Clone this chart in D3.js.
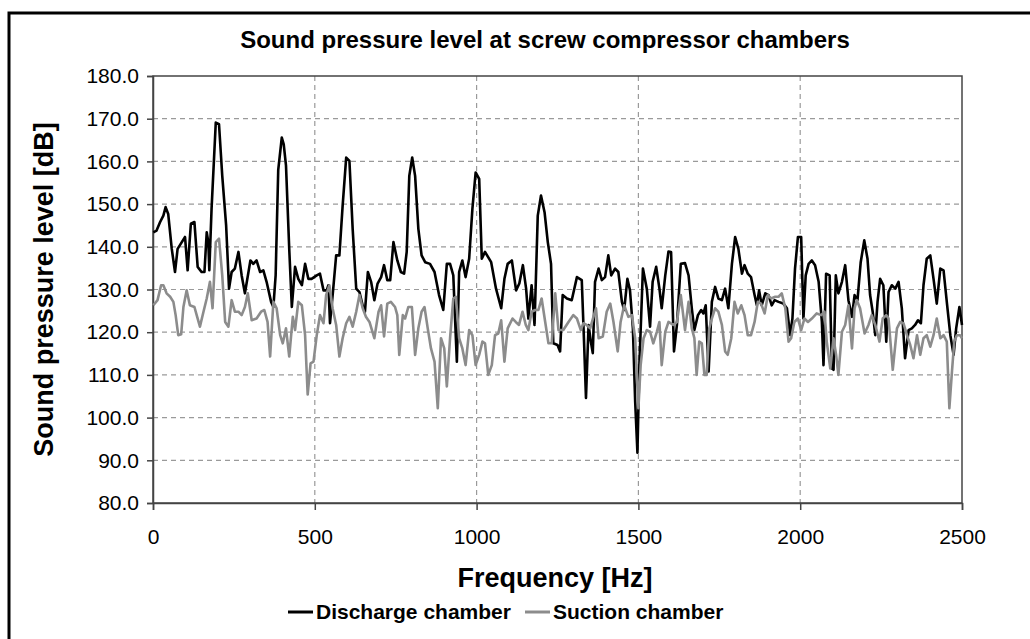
<!DOCTYPE html>
<html>
<head>
<meta charset="utf-8">
<script src="https://cdn.jsdelivr.net/npm/d3@7"></script>
<style>
  html, body { margin: 0; padding: 0; background: #fff; }
  svg { display: block; font-family: "Liberation Sans", Arial, sans-serif; }
</style>
</head>
<body>
<svg id="chart"></svg>
<script>
// [frequency Hz, dB]
const discharge = [[1,143.4],[11,143.8],[22,145.8],[32,147.3],[39,149.3],[47,147.7],[58,139.5],[68,134.1],[76,139.5],[89,141.1],[99,142.3],[107,134.5],[117,145.4],[128,145.8],[138,135.3],[150,134.1],[159,134.1],[166,143.4],[171,141.1],[174,134.5],[181,148.9],[194,169.1],[204,168.7],[214,156.6],[226,145.0],[235,130.2],[243,134.1],[253,134.9],[264,138.8],[274,133.3],[284,129.1],[301,136.8],[310,136.0],[320,136.8],[331,134.1],[341,134.5],[351,131.8],[365,127.1],[372,125.9],[379,133.3],[387,158.0],[398,165.6],[404,164.0],[411,159.0],[421,139.5],[429,125.9],[439,135.3],[449,132.5],[460,131.0],[470,136.0],[480,132.5],[490,132.5],[506,133.3],[516,133.7],[527,129.8],[537,129.8],[542,131.0],[547,122.1],[557,130.2],[566,138.0],[576,138.0],[586,149.6],[597,160.9],[607,160.1],[617,144.2],[628,130.2],[638,129.4],[650,125.6],[655,124.8],[664,134.1],[674,131.8],[684,127.5],[694,131.4],[705,132.9],[714,135.7],[724,132.2],[733,132.2],[743,141.1],[755,136.8],[766,134.1],[776,133.7],[784,138.8],[792,156.6],[801,160.9],[810,156.6],[820,144.2],[830,138.0],[841,136.4],[856,136.0],[870,134.1],[884,128.7],[897,125.2],[908,136.0],[918,136.0],[928,133.3],[933,124.0],[939,113.1],[946,134.1],[956,136.8],[966,132.9],[977,137.2],[987,148.9],[997,157.4],[1008,155.9],[1016,137.2],[1026,138.8],[1045,136.4],[1060,130.2],[1076,125.6],[1086,132.5],[1096,136.0],[1109,136.8],[1122,129.8],[1132,131.4],[1143,135.7],[1153,130.2],[1160,123.2],[1170,131.0],[1179,121.7],[1189,147.3],[1199,152.0],[1210,148.1],[1220,141.1],[1230,136.0],[1237,117.4],[1250,117.0],[1258,115.5],[1266,128.7],[1279,127.9],[1294,127.5],[1310,132.9],[1325,132.2],[1332,117.8],[1338,104.6],[1346,121.7],[1353,117.8],[1359,115.1],[1366,131.8],[1377,134.9],[1387,132.2],[1397,132.9],[1407,138.0],[1416,133.3],[1428,134.9],[1438,134.1],[1449,127.1],[1456,125.2],[1466,132.5],[1474,129.8],[1483,120.9],[1490,103.8],[1497,91.8],[1503,112.3],[1514,134.9],[1526,130.2],[1536,121.3],[1544,131.8],[1555,135.3],[1565,130.2],[1572,125.6],[1583,133.3],[1593,138.9],[1601,138.8],[1610,115.5],[1619,121.7],[1631,136.0],[1644,136.2],[1655,133.3],[1665,125.6],[1673,120.5],[1684,124.0],[1694,125.2],[1701,124.4],[1708,126.3],[1717,110.8],[1727,127.1],[1737,130.6],[1747,127.9],[1758,127.5],[1768,130.2],[1778,125.6],[1789,136.0],[1799,142.3],[1809,139.5],[1820,133.7],[1828,135.7],[1838,133.7],[1848,132.9],[1859,128.7],[1866,126.3],[1873,129.8],[1881,126.3],[1892,129.1],[1902,128.7],[1912,126.3],[1921,127.5],[1933,127.1],[1948,126.7],[1959,125.6],[1969,119.3],[1976,123.2],[1984,134.9],[1993,142.3],[2003,142.3],[2010,123.2],[2017,133.3],[2026,136.0],[2036,136.8],[2046,135.7],[2057,131.8],[2067,122.4],[2072,112.3],[2080,133.7],[2091,133.3],[2098,111.5],[2103,111.2],[2110,133.3],[2118,129.1],[2129,131.8],[2139,135.7],[2149,127.5],[2160,123.6],[2168,128.7],[2177,127.5],[2187,136.4],[2198,141.5],[2208,137.2],[2216,128.7],[2224,124.8],[2232,119.3],[2239,127.1],[2247,132.5],[2257,131.0],[2266,117.8],[2273,129.4],[2283,131.0],[2294,130.2],[2304,131.8],[2314,125.6],[2324,113.9],[2335,120.5],[2345,120.9],[2355,121.7],[2364,122.8],[2373,122.1],[2381,131.0],[2391,137.2],[2402,138.0],[2412,132.5],[2422,126.7],[2433,134.9],[2443,134.5],[2453,127.1],[2464,119.3],[2474,114.7],[2482,120.9],[2492,125.9],[2500,121.7]];

const suction = [[1,126.3],[14,127.5],[25,131.0],[32,131.0],[42,129.1],[53,128.3],[63,127.1],[70,124.0],[78,119.3],[87,119.5],[94,125.9],[104,129.8],[114,126.3],[128,125.9],[135,124.0],[145,121.3],[156,124.8],[166,127.9],[176,131.8],[184,125.6],[194,141.1],[204,141.9],[214,133.3],[223,122.4],[233,121.3],[243,127.5],[253,124.8],[264,124.8],[274,124.0],[284,125.9],[293,129.1],[305,122.8],[320,123.2],[334,124.8],[344,125.2],[354,122.4],[362,114.3],[372,127.1],[382,125.6],[393,119.3],[401,117.4],[411,120.9],[421,114.3],[432,123.6],[439,120.5],[449,127.1],[460,126.3],[470,119.3],[478,105.4],[487,112.7],[496,113.1],[506,119.3],[516,124.0],[527,122.1],[535,128.7],[545,131.0],[555,125.6],[566,121.7],[576,114.3],[586,118.6],[597,122.1],[607,123.6],[617,121.3],[628,124.8],[638,128.7],[648,125.6],[658,123.6],[669,122.4],[684,118.6],[697,124.8],[705,126.3],[714,119.0],[724,126.7],[735,127.1],[748,125.9],[755,124.0],[761,114.7],[772,124.0],[779,123.2],[789,125.9],[800,125.9],[810,114.7],[820,120.9],[830,124.8],[839,125.9],[849,120.9],[859,116.2],[870,113.1],[880,102.2],[890,118.6],[900,116.2],[908,107.3],[918,118.6],[928,127.9],[936,128.3],[946,118.6],[956,116.2],[966,112.3],[977,120.5],[987,119.3],[997,112.3],[1008,114.7],[1018,117.8],[1026,117.4],[1036,110.0],[1047,112.3],[1057,119.3],[1067,119.7],[1076,122.8],[1086,113.1],[1096,120.9],[1111,123.2],[1121,122.4],[1131,121.7],[1142,124.8],[1152,121.7],[1160,120.5],[1170,124.8],[1181,125.2],[1191,125.2],[1201,127.9],[1212,122.4],[1222,117.4],[1232,117.4],[1243,129.1],[1253,120.5],[1268,120.5],[1284,122.4],[1299,124.0],[1310,123.2],[1322,120.5],[1330,122.1],[1340,121.7],[1351,120.9],[1361,123.6],[1369,125.6],[1377,118.6],[1390,119.0],[1402,124.8],[1413,126.7],[1423,122.4],[1436,115.5],[1445,122.4],[1456,126.3],[1469,123.6],[1480,124.0],[1490,118.6],[1500,102.2],[1507,112.3],[1516,118.6],[1526,120.5],[1536,120.1],[1546,117.4],[1557,120.1],[1565,122.4],[1572,112.3],[1583,120.1],[1593,122.4],[1608,121.7],[1619,122.4],[1631,128.7],[1644,120.5],[1655,127.1],[1665,120.9],[1673,118.6],[1680,110.0],[1688,117.8],[1696,117.4],[1704,110.0],[1711,110.0],[1719,120.9],[1727,123.2],[1737,125.6],[1747,124.8],[1758,121.7],[1768,115.5],[1776,114.7],[1787,118.6],[1797,127.1],[1807,124.4],[1818,126.3],[1828,124.0],[1838,119.3],[1848,119.3],[1859,122.4],[1869,127.1],[1879,126.7],[1890,124.4],[1900,128.7],[1910,127.9],[1923,128.3],[1933,128.3],[1943,129.1],[1954,125.6],[1964,117.8],[1972,118.6],[1982,122.4],[1993,123.2],[2003,120.5],[2013,123.2],[2024,122.4],[2036,123.2],[2051,124.4],[2065,124.0],[2075,124.8],[2082,117.8],[2093,111.5],[2103,118.6],[2111,114.7],[2118,110.0],[2129,120.1],[2139,121.7],[2149,126.3],[2160,116.2],[2168,125.6],[2175,127.5],[2185,125.6],[2199,119.7],[2211,121.7],[2221,124.0],[2232,121.7],[2245,117.8],[2255,123.2],[2266,124.0],[2273,123.2],[2286,111.2],[2299,120.9],[2309,122.4],[2319,122.1],[2330,119.3],[2340,117.0],[2350,113.9],[2361,119.3],[2371,114.7],[2381,118.6],[2391,119.3],[2402,116.6],[2412,119.3],[2422,123.2],[2433,118.6],[2443,119.3],[2453,117.8],[2461,102.2],[2469,110.8],[2476,117.8],[2484,119.3],[2494,119.3],[2500,118.6]];

const xTicks = [0, 500, 1000, 1500, 2000, 2500];
const yTicks = [80, 90, 100, 110, 120, 130, 140, 150, 160, 170, 180];
const seriesNames = ['Discharge chamber', 'Suction chamber'];
const seriesColors = ['#000000', '#8c8c8c'];

const W = 1030, H = 639;
const m = { top: 76, right: 68, bottom: 136, left: 153 };
const cW = W - m.left - m.right;
const cH = H - m.top - m.bottom;
const FONT = '"Liberation Sans", Arial, sans-serif';

const svg = d3.select('#chart').attr('width', W).attr('height', H);
svg.append('rect').attr('width', W).attr('height', H).attr('fill', '#fff');

// outer frame (top and left edges visible)
svg.append('path').attr('d', `M9,${H} L9,13 L${W},13`)
  .attr('fill', 'none').attr('stroke', '#000').attr('stroke-width', 3);

svg.append('text').attr('x', 545).attr('y', 48).attr('text-anchor', 'middle')
  .style('font-size', '24px').style('font-weight', 'bold')
  .text('Sound pressure level at screw compressor chambers');

const g = svg.append('g').attr('transform', `translate(${m.left},${m.top})`);
const x = d3.scaleLinear().domain([0, 2500]).range([0, cW]);
const y = d3.scaleLinear().domain([80, 180]).range([cH, 0]);

// grid
const grid = g.append('g').attr('stroke', '#9a9a9a').attr('stroke-width', 1.2)
  .attr('stroke-dasharray', '5,4');
yTicks.slice(1, -1).forEach(t => {
  grid.append('line').attr('x1', 0).attr('x2', cW).attr('y1', y(t)).attr('y2', y(t));
});
xTicks.slice(1, -1).forEach(t => {
  grid.append('line').attr('x1', x(t)).attr('x2', x(t)).attr('y1', 0).attr('y2', cH);
});

// plot box
g.append('rect').attr('width', cW).attr('height', cH)
  .attr('fill', 'none').attr('stroke', '#444').attr('stroke-width', 1.5);

// axes
const yAxis = g.append('g')
  .call(d3.axisLeft(y).tickValues(yTicks).tickFormat(d3.format('.1f')).tickSize(6).tickPadding(8));
const xAxis = g.append('g').attr('transform', `translate(0,${cH})`)
  .call(d3.axisBottom(x).tickValues(xTicks).tickFormat(d3.format('d')).tickSize(7).tickPadding(19));
[yAxis, xAxis].forEach(a => {
  a.selectAll('.domain').attr('stroke', '#444').attr('stroke-width', 1.5);
  a.selectAll('.tick line').attr('stroke', '#444').attr('stroke-width', 1.5);
  a.selectAll('text').style('font-size', '21px').style('font-family', FONT).attr('fill', '#000');
});

// series
const line = d3.line().x(d => x(d[0])).y(d => y(d[1]));
[discharge, suction].forEach((s, i) => {
  g.append('path').datum(s)
    .attr('fill', 'none').attr('stroke', seriesColors[i]).attr('stroke-width', 2.6)
    .attr('stroke-linejoin', 'round').attr('d', line);
});

// axis titles
svg.append('text').attr('transform', `translate(53,${m.top + cH / 2}) rotate(-90)`)
  .attr('text-anchor', 'middle')
  .style('font-size', '27px').style('font-weight', 'bold')
  .text('Sound pressure level [dB]');
svg.append('text').attr('x', 555).attr('y', 587).attr('text-anchor', 'middle')
  .style('font-size', '27px').style('font-weight', 'bold')
  .text('Frequency [Hz]');

// legend
const legend = svg.append('g');
const legendX = [288, 525];
seriesNames.forEach((name, i) => {
  legend.append('line').attr('x1', legendX[i]).attr('x2', legendX[i] + 25)
    .attr('y1', 612).attr('y2', 612)
    .attr('stroke', seriesColors[i]).attr('stroke-width', 3);
  legend.append('text').attr('x', legendX[i] + 28).attr('y', 619)
    .style('font-size', '21px').style('font-weight', 'bold')
    .text(name);
});
</script>
</body>
</html>
